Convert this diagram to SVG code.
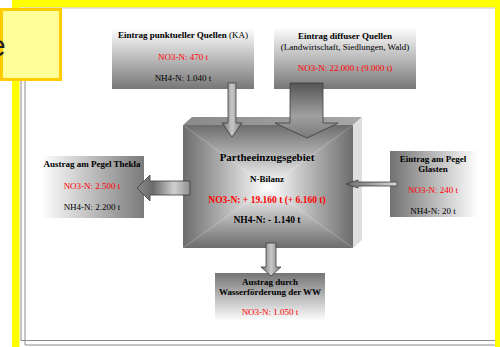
<svg xmlns="http://www.w3.org/2000/svg" width="500" height="347" viewBox="0 0 500 347">
<defs>
<linearGradient id="gV" x1="0" y1="0" x2="0" y2="1"><stop offset="0" stop-color="#ffffff"/><stop offset="1" stop-color="#777777"/></linearGradient>
<linearGradient id="gVup" x1="0" y1="0" x2="0" y2="1"><stop offset="0" stop-color="#747474"/><stop offset="1" stop-color="#ffffff"/></linearGradient>
<linearGradient id="gHwg" x1="0" y1="0" x2="1" y2="0"><stop offset="0" stop-color="#ffffff"/><stop offset="1" stop-color="#7a7a7a"/></linearGradient>
<linearGradient id="gHgw" x1="0" y1="0" x2="1" y2="0"><stop offset="0" stop-color="#727272"/><stop offset="1" stop-color="#ffffff"/></linearGradient>
<linearGradient id="fTop" gradientUnits="userSpaceOnUse" x1="0" y1="125" x2="0" y2="187"><stop offset="0" stop-color="#6c6c6c"/><stop offset="1" stop-color="#ffffff"/></linearGradient>
<linearGradient id="fBot" gradientUnits="userSpaceOnUse" x1="0" y1="248" x2="0" y2="187"><stop offset="0" stop-color="#6c6c6c"/><stop offset="1" stop-color="#ffffff"/></linearGradient>
<linearGradient id="fLeft" gradientUnits="userSpaceOnUse" x1="183" y1="0" x2="268" y2="0"><stop offset="0" stop-color="#6c6c6c"/><stop offset="1" stop-color="#ffffff"/></linearGradient>
<linearGradient id="fRight" gradientUnits="userSpaceOnUse" x1="353" y1="0" x2="268" y2="0"><stop offset="0" stop-color="#6c6c6c"/><stop offset="1" stop-color="#ffffff"/></linearGradient>
<linearGradient id="topFace" x1="0" y1="0" x2="1" y2="0"><stop offset="0" stop-color="#8a8a8a"/><stop offset="1" stop-color="#a8a8a8"/></linearGradient>
<linearGradient id="aDown" x1="0" y1="0" x2="1" y2="0"><stop offset="0" stop-color="#6a6a6a"/><stop offset="0.5" stop-color="#c8c8c8"/><stop offset="1" stop-color="#7a7a7a"/></linearGradient>
<linearGradient id="aBig" x1="0" y1="0" x2="0" y2="1"><stop offset="0" stop-color="#555555"/><stop offset="0.6" stop-color="#a0a0a0"/><stop offset="1" stop-color="#7a7a7a"/></linearGradient>
<linearGradient id="aLeft" x1="0" y1="0" x2="1" y2="0"><stop offset="0" stop-color="#8a8a8a"/><stop offset="0.3" stop-color="#6a6a6a"/><stop offset="0.7" stop-color="#d0d0d0"/><stop offset="1" stop-color="#909090"/></linearGradient>
<linearGradient id="aRight" x1="0" y1="0" x2="1" y2="0"><stop offset="0" stop-color="#6a6a6a"/><stop offset="1" stop-color="#d8d8d8"/></linearGradient>
</defs>
<style>
text{font-family:"Liberation Serif","Times New Roman",serif;font-size:9px;text-anchor:middle;fill:#000}
.b{font-weight:bold}
.r{fill:#ff0000}
.arrow{stroke:#3c3c3c;stroke-width:0.8}
.frame{fill:none;stroke:#8c8c8c;stroke-width:1}
</style>
<rect x="0" y="0" width="500" height="347" fill="#ffffff"/>
<g id="frame">
<rect x="12" y="0" width="488" height="7.5" fill="#ffff00"/>
<rect x="12" y="0" width="7.5" height="347" fill="#ffff00"/>
<rect x="495" y="0" width="5" height="347" fill="#ffff00"/>
<line x1="20" y1="8" x2="495" y2="8" stroke="#c8c8c8" stroke-width="1"/>
<polyline class="frame" points="21,8 21,340.5 495,340.5"/>
<polyline class="frame" points="25,12 25,345 495,345"/>
<rect x="1.5" y="9.5" width="59" height="70" fill="#ffff99" stroke="#ffcc00" stroke-width="3"/>
<text x="-11" y="56" style="font-family:'Liberation Sans',Arial,sans-serif;font-size:30px;text-anchor:start;fill:#222">e</text>
</g>
<g id="node-ka">
<rect x="112" y="28" width="142" height="61" fill="url(#gV)"/>
<text x="183" y="38"><tspan class="b">Eintrag punktueller Quellen </tspan>(KA)</text>
<text x="183" y="60" class="r">NO3-N: 470 t</text>
<text x="183" y="81">NH4-N: 1.040 t</text>
</g>
<g id="node-diffus">
<rect x="274" y="27" width="142" height="62" fill="url(#gV)"/>
<text x="345" y="39" class="b">Eintrag diffuser Quellen</text>
<text x="345" y="50">(Landwirtschaft, Siedlungen, Wald)</text>
<text x="345" y="71" class="r">NO3-N: 22.000 t (9.000 t)</text>
</g>
<g id="node-center">
<polygon points="183,125 192,117 362,117 353,125" fill="url(#topFace)"/>
<polygon points="353,125 362,117 362,240 353,248" fill="#dedede"/>
<polygon points="183,125 353,125 268,187" fill="url(#fTop)"/>
<polygon points="183,248 353,248 268,187" fill="url(#fBot)"/>
<polygon points="183,125 183,248 268,187" fill="url(#fLeft)"/>
<polygon points="353,125 353,248 268,187" fill="url(#fRight)"/>
<text x="267" y="161" class="b" style="font-size:11px">Partheeinzugsgebiet</text>
<text x="267" y="182" class="b">N-Bilanz</text>
<text x="267" y="203" class="b r" style="font-size:9.5px">NO3-N:  + 19.160 t (+ 6.160 t)</text>
<text x="267" y="223" class="b" style="font-size:9.5px">NH4-N: - 1.140 t</text>
</g>
<g id="node-thekla">
<rect x="41" y="156" width="103" height="62" fill="url(#gHwg)"/>
<text x="92" y="167" class="b">Austrag am Pegel Thekla</text>
<text x="92" y="189" class="r">NO3-N: 2.500 t</text>
<text x="92" y="210">NH4-N: 2.200 t</text>
</g>
<g id="node-glasten">
<rect x="390" y="151" width="88" height="66" fill="url(#gHgw)"/>
<text x="433" y="162" class="b">Eintrag am Pegel</text>
<text x="433" y="172" class="b">Glasten</text>
<text x="433" y="193" class="r">NO3-N: 240 t</text>
<text x="433" y="214">NH4-N: 20 t</text>
</g>
<g id="node-ww">
<rect x="215" y="273" width="110" height="48" fill="url(#gVup)"/>
<text x="270" y="285" class="b">Austrag durch</text>
<text x="270" y="295" class="b">Wasserförderung der WW</text>
<text x="270" y="315" class="r">NO3-N: 1.050 t</text>
</g>
<g id="connectors">
<path class="arrow" fill="url(#aDown)" d="M228,83 H236 V123 H242 L232,137 L222,123 H228 Z"/>
<path class="arrow" fill="url(#aBig)" d="M290,83 H323 V123 H338 L307,138 L275,123 H290 Z"/>
<path class="arrow" fill="url(#aLeft)" d="M190,181 H150 V175 L137,188 L150,201 V195 H190 Z"/>
<path class="arrow" fill="url(#aRight)" d="M397,182 H358 V180 L346,184 L358,188 V186 H397 Z"/>
<path class="arrow" fill="url(#aDown)" d="M266,243 H276 V267 H281 L271,276 L261,267 H266 Z"/>
</g>
</svg>
